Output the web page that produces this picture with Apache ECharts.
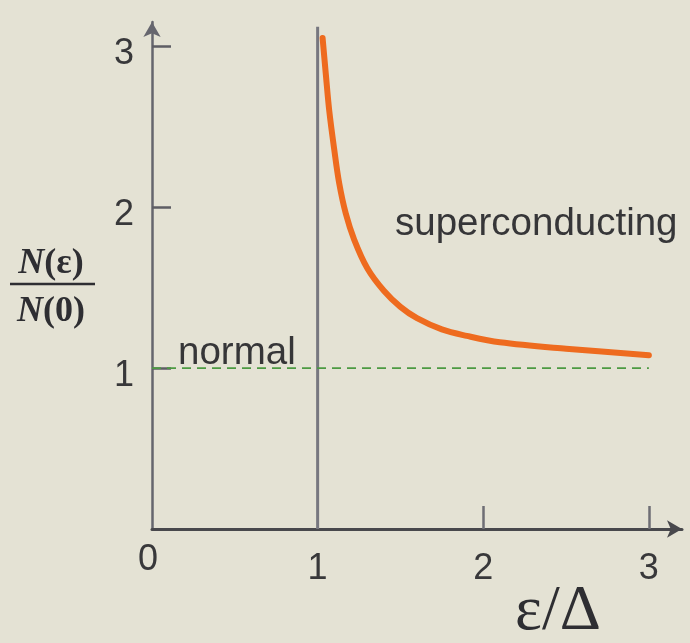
<!DOCTYPE html>
<html>
<head>
<meta charset="utf-8">
<script src="https://cdn.jsdelivr.net/npm/echarts@6/dist/echarts.min.js"></script>
<style>
  html, body { margin: 0; padding: 0; background: #e4e2d4; }
  #chart { width: 690px; height: 643px; }
</style>
</head>
<body>
<div id="chart"></div>
<script>
// Density of states ratio N(ε)/N(0) against ε/Δ
const dosX = [1.03, 1.05, 1.07, 1.10, 1.13, 1.17, 1.22, 1.30, 1.40, 1.50, 1.60, 1.75, 1.90, 2.10, 2.50, 3.00];
const dosY = [3.05, 2.82, 2.60, 2.36, 2.15, 1.96, 1.80, 1.62, 1.48, 1.38, 1.31, 1.24, 1.20, 1.16, 1.12, 1.08];

// Normal-state level
const normalX = [0, 3];
const normalY = [1, 1];

// Gap edge at ε = Δ
const gapX = [1, 1];
const gapY = [0, 3.12];

const xTicks = [0, 1, 2, 3];
const yTicks = [1, 2, 3];

const zip = (a, b) => a.map((v, i) => [v, b[i]]);

const chart = echarts.init(document.getElementById('chart'));

const labelFont = {
  fontFamily: 'Liberation Sans, Arial, sans-serif',
  fontSize: 36,
  color: '#38383a'
};

chart.setOption({
  backgroundColor: '#e4e2d4',
  animation: false,
  grid: { left: 152, top: 22, width: 530, bottom: 114 },
  xAxis: {
    type: 'value',
    min: 0,
    max: 3.2,
    interval: 1,
    axisLine: {
      show: true,
      symbol: ['none', 'arrow'],
      symbolSize: [13, 15],
      lineStyle: { color: '#48484c', width: 3 }
    },
    axisTick: {
      show: true,
      inside: true,
      length: 23,
      customValues: [2, 3],
      lineStyle: { color: '#6e6e74', width: 2.5 }
    },
    axisLabel: Object.assign({
      customValues: xTicks,
      margin: 40,
      verticalAlign: 'middle',
      formatter: v => v === 0 ? '{z|0}' : String(v),
      rich: {
        z: Object.assign({ padding: [0, 8, 18, 0] }, labelFont)
      }
    }, labelFont),
    splitLine: { show: false }
  },
  yAxis: {
    type: 'value',
    min: 0,
    max: 3.15,
    interval: 1,
    axisLine: {
      show: true,
      symbol: ['none', 'arrow'],
      symbolSize: [13, 15],
      lineStyle: { color: '#66666e', width: 2.5 }
    },
    axisTick: {
      show: true,
      inside: true,
      length: 19,
      customValues: yTicks,
      lineStyle: { color: '#5e5e64', width: 2.5 }
    },
    axisLabel: Object.assign({
      customValues: yTicks,
      margin: 18,
      verticalAlign: 'top',
      lineHeight: 16
    }, labelFont),
    splitLine: { show: false }
  },
  series: [
    {
      name: 'gap',
      type: 'line',
      data: zip(gapX, gapY),
      showSymbol: false,
      lineStyle: { color: '#77777f', width: 3 },
      z: 2
    },
    {
      name: 'normal',
      type: 'line',
      data: zip(normalX, normalY),
      showSymbol: false,
      lineStyle: { color: '#4c9a42', width: 1.7, type: [9, 6] },
      z: 3
    },
    {
      name: 'superconducting',
      type: 'line',
      data: zip(dosX, dosY),
      smooth: 0.35,
      showSymbol: false,
      lineStyle: { color: '#ee6b1f', width: 6, cap: 'round', join: 'round' },
      z: 4
    }
  ],
  graphic: [
    {
      type: 'text',
      left: 395,
      top: 205,
      style: {
        text: 'superconducting',
        font: '38.5px "Liberation Sans", Arial, sans-serif',
        fill: '#363638'
      }
    },
    {
      type: 'text',
      left: 178,
      top: 334,
      style: {
        text: 'normal',
        font: '38.5px "Liberation Sans", Arial, sans-serif',
        fill: '#363638'
      }
    },
    {
      type: 'text',
      x: 558,
      y: 612,
      style: {
        text: 'ε/Δ',
        font: '64px "Liberation Serif", "Times New Roman", serif',
        fill: '#2e2e32',
        align: 'center',
        verticalAlign: 'middle'
      }
    },
    {
      type: 'text',
      x: 51,
      y: 264,
      style: {
        text: '{i|N}{r|(ε)}',
        align: 'center',
        verticalAlign: 'middle',
        rich: {
          i: { font: 'italic bold 36px "Liberation Serif", serif', fill: '#2e2e32' },
          r: { font: 'bold 36px "Liberation Serif", serif', fill: '#2e2e32' }
        }
      }
    },
    {
      type: 'line',
      shape: { x1: 10, y1: 284, x2: 95, y2: 284 },
      style: { stroke: '#2e2e32', lineWidth: 2.5 }
    },
    {
      type: 'text',
      x: 51,
      y: 312,
      style: {
        text: '{i|N}{r|(0)}',
        align: 'center',
        verticalAlign: 'middle',
        rich: {
          i: { font: 'italic bold 36px "Liberation Serif", serif', fill: '#2e2e32' },
          r: { font: 'bold 36px "Liberation Serif", serif', fill: '#2e2e32' }
        }
      }
    }
  ]
});
</script>
</body>
</html>
